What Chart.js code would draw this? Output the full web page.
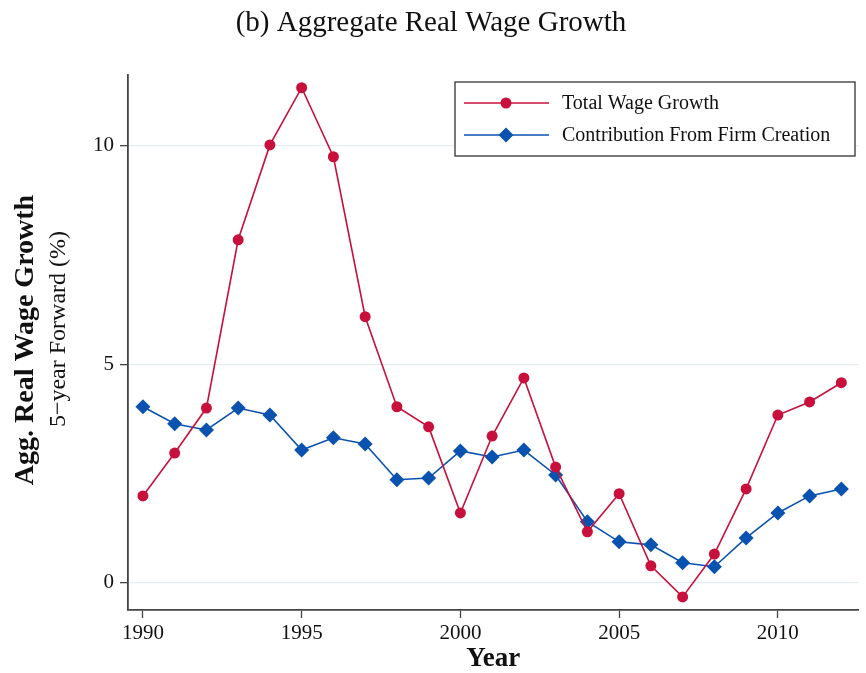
<!DOCTYPE html>
<html>
<head>
<meta charset="utf-8">
<script src="https://cdn.jsdelivr.net/npm/chart.js@4"></script>
<style>
  html, body { margin: 0; padding: 0; background: #fff; }
  #wrap { width: 866px; height: 673px; }
</style>
</head>
<body>
<div id="wrap"><canvas id="c" width="866" height="673"></canvas></div>
<script>
// values
var years = [1990,1991,1992,1993,1994,1995,1996,1997,1998,1999,2000,2001,2002,2003,2004,2005,2006,2007,2008,2009,2010,2011,2012];
var totalGrowth = [1.99,2.97,4.0,7.85,10.02,11.33,9.75,6.09,4.03,3.57,1.60,3.36,4.69,2.65,1.17,2.04,0.39,-0.32,0.66,2.15,3.84,4.14,4.58];
var firmCreation = [4.03,3.64,3.50,4.00,3.84,3.04,3.32,3.18,2.36,2.40,3.02,2.88,3.04,2.47,1.40,0.94,0.87,0.46,0.37,1.03,1.60,1.99,2.15];
var seriesNames = ["Total Wage Growth", "Contribution From Firm Creation"];

var RED = "#c8103c";
var BLUE = "#0a52b0";
var FONT = "'Liberation Serif', 'DejaVu Serif', serif";

function pts(vals) {
  return years.map(function (y, i) { return { x: y, y: vals[i] }; });
}

// title, axis titles and the framed legend
var textPlugin = {
  id: "texts",
  afterDraw: function (chart) {
    var ctx = chart.ctx;
    var area = chart.chartArea;
    ctx.save();
    ctx.fillStyle = "#111";
    ctx.textAlign = "center";
    ctx.textBaseline = "middle";
    ctx.font = "29px " + FONT;
    ctx.fillText("(b) Aggregate Real Wage Growth", 431, 23);

    ctx.font = "bold 27px " + FONT;
    ctx.fillText("Year", (area.left + area.right) / 2, 659);

    ctx.save();
    ctx.translate(26, 340);
    ctx.rotate(-Math.PI / 2);
    ctx.font = "bold 28px " + FONT;
    ctx.fillText("Agg. Real Wage Growth", 0, 0);
    ctx.restore();
    ctx.save();
    ctx.translate(59, 329);
    ctx.rotate(-Math.PI / 2);
    ctx.font = "24px " + FONT;
    ctx.fillText("5\u2212year Forward (%)", 0, 0);
    ctx.restore();

    // legend
    ctx.fillStyle = "#fff";
    ctx.fillRect(455, 82, 400, 74);
    ctx.strokeStyle = "#222";
    ctx.lineWidth = 1.2;
    ctx.strokeRect(455, 82, 400, 74);
    var rows = [103, 135];
    var cols = [RED, BLUE];
    ctx.textAlign = "left";
    ctx.font = "20px " + FONT;
    for (var i = 0; i < 2; i++) {
      var yy = rows[i];
      ctx.strokeStyle = cols[i];
      ctx.lineWidth = 1.6;
      ctx.beginPath();
      ctx.moveTo(464, yy);
      ctx.lineTo(549, yy);
      ctx.stroke();
      ctx.fillStyle = cols[i];
      ctx.beginPath();
      if (i === 0) {
        ctx.arc(506, yy, 5.5, 0, Math.PI * 2);
      } else {
        ctx.moveTo(506, yy - 7.5);
        ctx.lineTo(513.5, yy);
        ctx.lineTo(506, yy + 7.5);
        ctx.lineTo(498.5, yy);
        ctx.closePath();
      }
      ctx.fill();
      ctx.fillStyle = "#111";
      ctx.fillText(seriesNames[i], 562, yy + 1);
    }
    ctx.restore();
  }
};

new Chart(document.getElementById("c"), {
  type: "line",
  data: {
    datasets: [
      {
        label: seriesNames[0],
        data: pts(totalGrowth),
        borderColor: RED,
        backgroundColor: RED,
        borderWidth: 1.6,
        pointStyle: "circle",
        pointRadius: 5.5,
        pointBorderWidth: 0,
        tension: 0
      },
      {
        label: seriesNames[1],
        data: pts(firmCreation),
        borderColor: BLUE,
        backgroundColor: BLUE,
        borderWidth: 1.6,
        pointStyle: "rectRot",
        pointRadius: 7.5,
        pointBorderWidth: 0,
        tension: 0
      }
    ]
  },
  options: {
    responsive: false,
    animation: false,
    layout: { padding: { top: 75, right: 4, left: 0, bottom: 0 } },
    plugins: { legend: { display: false }, tooltip: { enabled: false } },
    scales: {
      x: {
        type: "linear",
        min: 1989.53,
        max: 2012.54,
        afterFit: function (s) { s.height = 63; },
        ticks: {
          stepSize: 5,
          includeBounds: false,
          color: "#111",
          font: { family: FONT, size: 21 },
          padding: 3,
          maxRotation: 0,
          callback: function (v) { return String(v); }
        },
        grid: { drawOnChartArea: false, tickLength: 8, tickColor: "#444", tickWidth: 1.3 },
        border: { color: "#444", width: 1.8 }
      },
      y: {
        min: -0.62,
        max: 11.62,
        afterFit: function (s) { s.width = 128; },
        ticks: {
          stepSize: 5,
          includeBounds: false,
          color: "#111",
          font: { family: FONT, size: 21 },
          padding: 6
        },
        grid: { color: "#e6edf1", lineWidth: 1.3, tickLength: 8, tickColor: "#444", tickWidth: 1.3 },
        border: { color: "#444", width: 1.8 }
      }
    }
  },
  plugins: [textPlugin]
});
</script>
</body>
</html>
